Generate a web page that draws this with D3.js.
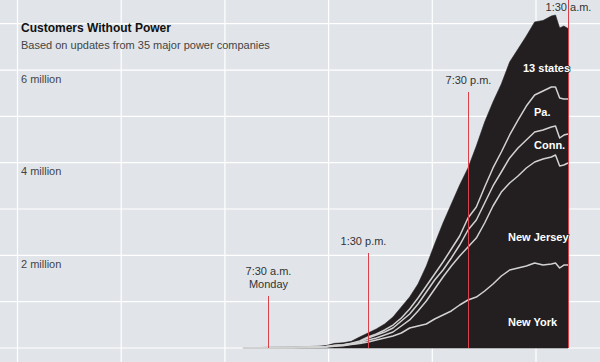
<!DOCTYPE html>
<html>
<head>
<meta charset="utf-8">
<script src="https://cdn.jsdelivr.net/npm/d3@7"></script>
<style>
  body { margin: 0; background: #e1e5e9; }
  svg { display: block; font-family: "Liberation Sans", Arial, Helvetica, sans-serif; }
</style>
</head>
<body>
<svg width="600" height="362"></svg>
<script>
// Data =====================================================

// hours after midnight, Monday Oct. 29 (values past 24 are Tuesday)
var hours = [6, 6.5, 7, 7.5, 8, 8.5, 9, 9.5, 10, 10.5, 11, 11.5, 12, 12.5,
  13, 13.5, 14, 14.5, 15, 15.5, 16, 16.5, 17, 17.5, 18, 18.5, 19, 19.5,
  20, 20.5, 21, 21.5, 22, 22.5, 23, 23.5, 24, 24.5, 24.75, 25, 25.25, 25.5];

// customers without power, millions
var newYork = [0.002, 0.003, 0.004, 0.005, 0.006, 0.007, 0.008, 0.010, 0.012, 0.014, 0.020, 0.040, 0.050, 0.076,
  0.097, 0.130, 0.173, 0.216, 0.259, 0.324, 0.432, 0.475, 0.518, 0.626, 0.712, 0.799, 0.928, 1.036,
  1.100, 1.230, 1.381, 1.554, 1.684, 1.727, 1.770, 1.835, 1.791, 1.813, 1.835, 1.727, 1.791, 1.791];
var newJersey = [0.001, 0.001, 0.002, 0.002, 0.003, 0.003, 0.004, 0.004, 0.005, 0.006, 0.008, 0.010, 0.010, 0.011,
  0.011, 0.043, 0.043, 0.065, 0.086, 0.151, 0.173, 0.324, 0.496, 0.648, 0.820, 0.971, 1.058, 1.144,
  1.273, 1.468, 1.684, 1.813, 1.878, 1.986, 2.115, 2.180, 2.288, 2.310, 2.331, 2.202, 2.158, 2.202];
var connecticut = [0, 0, 0, 0.001, 0.001, 0.001, 0.001, 0.002, 0.002, 0.002, 0.003, 0.005, 0.006, 0.009,
  0.022, 0.043, 0.065, 0.065, 0.086, 0.108, 0.130, 0.151, 0.194, 0.194, 0.151, 0.173, 0.237, 0.367,
  0.389, 0.432, 0.432, 0.432, 0.540, 0.604, 0.604, 0.648, 0.626, 0.648, 0.626, 0.604, 0.648, 0.626];
var pennsylvania = [0, 0, 0, 0.001, 0.001, 0.001, 0.001, 0.002, 0.002, 0.002, 0.003, 0.005, 0.006, 0.009,
  0.022, 0.022, 0.022, 0.043, 0.065, 0.065, 0.108, 0.130, 0.130, 0.130, 0.173, 0.194, 0.194, 0.259,
  0.281, 0.345, 0.389, 0.432, 0.496, 0.604, 0.734, 0.799, 0.842, 0.863, 0.842, 0.863, 0.777, 0.755];
var otherStates = [0.002, 0.003, 0.004, 0.005, 0.006, 0.007, 0.008, 0.010, 0.012, 0.014, 0.020, 0.040, 0.040, 0.040,
  0.086, 0.086, 0.108, 0.130, 0.173, 0.237, 0.259, 0.302, 0.432, 0.648, 0.842, 0.971, 1.100, 1.079,
  1.317, 1.403, 1.425, 1.468, 1.576, 1.532, 1.511, 1.576, 1.522, 1.532, 1.554, 1.511, 1.576, 1.522];

var yTicks = [2, 4, 6];
var yGrid = [0, 1, 2, 3, 4, 5, 6, 7];

// annotated moments: hours after Monday midnight, label lines
var markHours = [7.5, 13.5, 19.5, 25.5];
var markLabels = [["7:30 a.m.", "Monday"], ["1:30 p.m."], ["7:30 p.m."], ["1:30 a.m."]];

var stateKeys = ["ny", "nj", "ct", "pa", "other"];

// Setup ====================================================

var svg = d3.select("svg"),
    width = +svg.attr("width"),
    height = +svg.attr("height");

var monday = new Date(2012, 9, 29, 0, 0);
function toDate(h) { return new Date(monday.getTime() + h * 3600 * 1000); }

var rows = hours.map(function(h, i) {
  return { date: toDate(h), ny: newYork[i], nj: newJersey[i], ct: connecticut[i],
           pa: pennsylvania[i], other: otherStates[i] };
});

var x = d3.scaleTime()
    .domain([toDate(7.5), toDate(25.5)])
    .range([268, 568]);

var y = d3.scaleLinear()
    .domain([0, 7])
    .range([348, 23.7]);

// background grid columns are not tied to time
var gridX = d3.scaleLinear().domain([0, 5]).range([17.5, 536]);

var stacked = d3.stack().keys(stateKeys)(rows);

// Grid =====================================================

var grid = svg.append("g").attr("class", "grid");

grid.selectAll("line.v")
  .data(d3.range(6))
  .enter().append("line")
    .attr("class", "v")
    .attr("x1", function(d) { return gridX(d); })
    .attr("x2", function(d) { return gridX(d); })
    .attr("y1", 0)
    .attr("y2", height)
    .attr("stroke", "#fff")
    .attr("stroke-width", 1.2);

grid.selectAll("line.h")
  .data(yGrid)
  .enter().append("line")
    .attr("class", "h")
    .attr("x1", 0)
    .attr("x2", width)
    .attr("y1", function(d) { return y(d); })
    .attr("y2", function(d) { return y(d); })
    .attr("stroke", "#fff")
    .attr("stroke-width", 1.2);

// Area and state lines ========================================

var totalLayer = stacked[stacked.length - 1];

var area = d3.area()
    .x(function(d) { return x(d.data.date); })
    .y0(y(0))
    .y1(function(d) { return y(d[1]); });

svg.append("path")
  .datum(totalLayer)
  .attr("d", area)
  .attr("fill", "#231f20")
  .attr("stroke", "#231f20")
  .attr("stroke-width", 0.6);

var line = d3.line()
    .x(function(d) { return x(d.data.date); })
    .y(function(d) { return y(d[1]); });

svg.append("g")
  .selectAll("path")
  .data(stacked.slice(0, 4))
  .enter().append("path")
    .attr("d", line)
    .attr("fill", "none")
    .attr("stroke", "#d2d2d2")
    .attr("stroke-width", 1.5)
    .attr("stroke-linejoin", "round");

// Axis labels ================================================

svg.append("g")
  .selectAll("text")
  .data(yTicks)
  .enter().append("text")
    .attr("x", 21)
    .attr("y", function(d) { return y(d) + 12.5; })
    .attr("font-size", 11)
    .attr("fill", "#444")
    .text(function(d) { return d + " million"; });

// Time markers ===============================================

var labelTops = [271, 241, 80, 7]; // centre of first label line
var marks = svg.append("g").attr("class", "marks");

markHours.forEach(function(h, i) {
  var mx = Math.round(x(toDate(h))) + 0.5;
  var lines = markLabels[i];
  var lineTop = i == 3 ? 0 : labelTops[i] + 13 * (lines.length - 1) + 12;
  marks.append("line")
    .attr("x1", mx).attr("x2", mx)
    .attr("y1", lineTop).attr("y2", y(0))
    .attr("stroke", "#d9414b")
    .attr("stroke-width", 1);
  lines.forEach(function(t, j) {
    marks.append("text")
      .attr("x", mx + (i == 1 ? -5 : 0))
      .attr("y", labelTops[i] + 13 * j + 4)
      .attr("text-anchor", "middle")
      .attr("font-size", 11)
      .attr("fill", "#333")
      .text(t);
  });
});

// State labels ===============================================

var stateLabels = [
  { text: "13 states", x: 523, y: 72 },
  { text: "Pa.", x: 534, y: 116 },
  { text: "Conn.", x: 534, y: 149 },
  { text: "New Jersey", x: 508, y: 241 },
  { text: "New York", x: 508, y: 326 }
];

svg.append("g")
  .selectAll("text")
  .data(stateLabels)
  .enter().append("text")
    .attr("x", function(d) { return d.x; })
    .attr("y", function(d) { return d.y; })
    .attr("font-size", 11)
    .attr("font-weight", "bold")
    .attr("fill", "#fff")
    .attr("stroke", "#231f20")
    .attr("stroke-width", 1.5)
    .style("paint-order", "stroke")
    .text(function(d) { return d.text; });

// Titles =====================================================

svg.append("text")
  .attr("x", 21)
  .attr("y", 32)
  .attr("font-size", 12)
  .attr("font-weight", "bold")
  .attr("fill", "#111")
  .text("Customers Without Power");

svg.append("text")
  .attr("x", 21)
  .attr("y", 49)
  .attr("font-size", 11)
  .attr("fill", "#444")
  .text("Based on updates from 35 major power companies");
</script>
</body>
</html>
